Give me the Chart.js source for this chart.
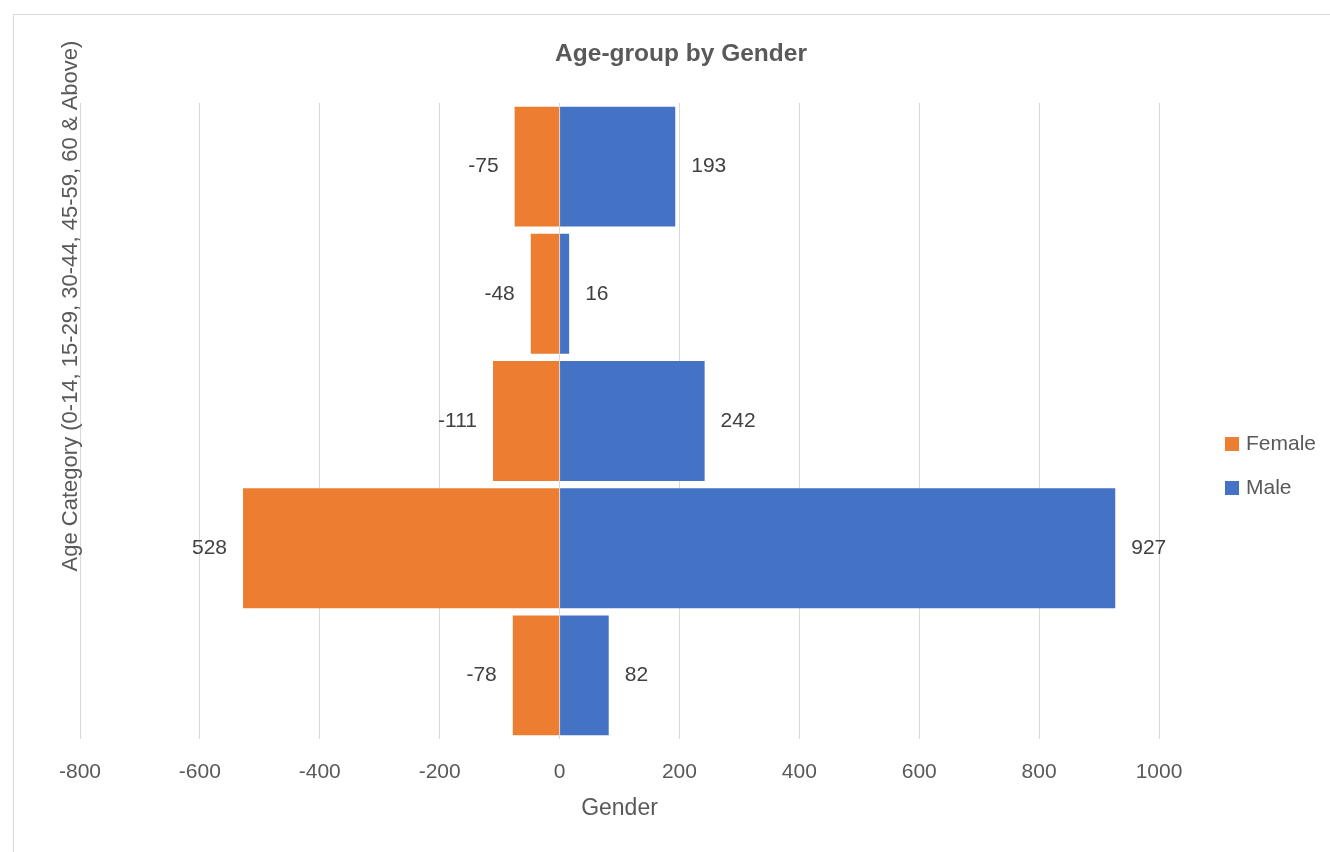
<!DOCTYPE html>
<html lang="en">
<head>
    <meta charset="UTF-8">
    <title>Age-group by Gender</title>
    <script src="https://cdn.jsdelivr.net/npm/chart.js"></script>
    <style>
        body { margin: 0; background: #fff; }
        #wrap { position: relative; width: 1330px; height: 852px; overflow: hidden; }
        #frame { position: absolute; left: 13px; top: 14px; width: 1340px; height: 860px; border: 1px solid #d9d9d9; }
        canvas { position: absolute; left: 0; top: 0; }
    </style>
</head>
<body>
    <div id="wrap">
        <div id="frame"></div>
        <canvas id="grafico" width="1330" height="852"></canvas>
    </div>

    <script>
        // categorias (de baixo para cima, como no Excel)
        var categories = ["0-14", "15-29", "30-44", "45-59", "60 & Above"];
        var femaleValues = [-78, -528, -111, -48, -75];
        var maleValues = [82, 927, 242, 16, 193];
        // rótulos como aparecem no gráfico original
        var femaleLabels = ["-78", "528", "-111", "-48", "-75"];
        var maleLabels = ["82", "927", "242", "16", "193"];
        var xTicks = [-800, -600, -400, -200, 0, 200, 400, 600, 800, 1000];

        var fonte = "'Liberation Sans', Arial, sans-serif";
        var cinza = "#595959";

        // rótulos de dados fora das barras
        var rotulosPlugin = {
            id: "rotulos",
            afterDatasetsDraw: function (chart) {
                var ctx = chart.ctx;
                ctx.save();
                ctx.font = "21px " + fonte;
                ctx.fillStyle = "#404040";
                ctx.textBaseline = "middle";
                chart.data.datasets.forEach(function (ds, i) {
                    var meta = chart.getDatasetMeta(i);
                    meta.data.forEach(function (bar, j) {
                        var v = ds.data[j];
                        if (v < 0) {
                            ctx.textAlign = "right";
                            ctx.fillText(ds.rotulos[j], bar.x - 16, bar.y);
                        } else {
                            ctx.textAlign = "left";
                            ctx.fillText(ds.rotulos[j], bar.x + 16, bar.y);
                        }
                    });
                });
                ctx.restore();
            }
        };

        // título, título do eixo Y e legenda desenhados à mão
        var extrasPlugin = {
            id: "extras",
            afterDraw: function (chart) {
                var ctx = chart.ctx;
                ctx.save();
                ctx.font = "bold 24.5px " + fonte;
                ctx.fillStyle = cinza;
                ctx.textAlign = "center";
                ctx.textBaseline = "middle";
                ctx.fillText("Age-group by Gender", 681, 54);
                ctx.restore();

                ctx.save();
                ctx.font = "22px " + fonte;
                ctx.fillStyle = cinza;
                ctx.textAlign = "center";
                ctx.textBaseline = "middle";
                ctx.translate(71, 306);
                ctx.rotate(-Math.PI / 2);
                ctx.fillText("Age Category (0-14, 15-29, 30-44, 45-59, 60 & Above)", 0, 0);
                ctx.restore();

                ctx.save();
                ctx.font = "21px " + fonte;
                ctx.textAlign = "left";
                ctx.textBaseline = "middle";
                var y = 444;
                chart.data.datasets.forEach(function (ds) {
                    ctx.fillStyle = ds.backgroundColor;
                    ctx.fillRect(1225, y - 7, 14, 14);
                    ctx.fillStyle = cinza;
                    ctx.fillText(ds.label, 1246, y);
                    y += 44;
                });
                ctx.restore();
            }
        };

        var ctx = document.getElementById("grafico").getContext("2d");
        var grafico = new Chart(ctx, {
            type: "bar",
            data: {
                labels: categories,
                datasets: [{
                    label: "Female",
                    data: femaleValues,
                    rotulos: femaleLabels,
                    backgroundColor: "#ED7D31",
                    categoryPercentage: 1,
                    barPercentage: 0.943
                }, {
                    label: "Male",
                    data: maleValues,
                    rotulos: maleLabels,
                    backgroundColor: "#4472C4",
                    categoryPercentage: 1,
                    barPercentage: 0.943
                }]
            },
            options: {
                indexAxis: "y",
                responsive: false,
                animation: false,
                devicePixelRatio: 1,
                layout: { padding: { left: 80, right: 171, top: 103, bottom: 0 } },
                plugins: {
                    legend: { display: false },
                    tooltip: { enabled: false },
                    title: { display: false }
                },
                scales: {
                    x: {
                        stacked: true,
                        min: xTicks[0],
                        max: xTicks[xTicks.length - 1],
                        afterBuildTicks: function (scale) {
                            scale.ticks = xTicks.map(function (v) { return { value: v }; });
                        },
                        afterFit: function (scale) { scale.height = 113; },
                        grid: { color: "#d9d9d9", lineWidth: 1, drawTicks: false },
                        border: { display: false },
                        ticks: {
                            color: cinza,
                            padding: 21,
                            font: { family: fonte, size: 21 },
                            callback: function (v) { return String(v); }
                        },
                        title: {
                            display: true,
                            text: "Gender",
                            color: cinza,
                            font: { family: fonte, size: 23 },
                            padding: { top: 0, bottom: 30 }
                        }
                    },
                    y: {
                        display: false,
                        stacked: true,
                        reverse: true
                    }
                }
            },
            plugins: [rotulosPlugin, extrasPlugin]
        });
    </script>
</body>
</html>
